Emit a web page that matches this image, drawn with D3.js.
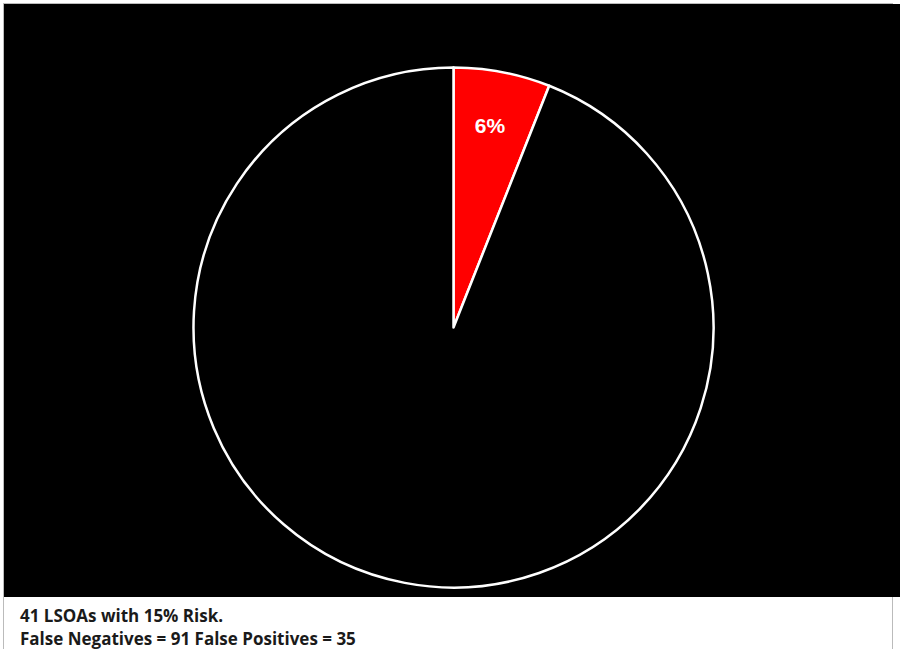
<!DOCTYPE html>
<html>
<head>
<meta charset="utf-8">
<script src="https://cdn.jsdelivr.net/npm/d3@7"></script>
<style>
  body { margin: 0; background: #fff; }
  svg { display: block; }
</style>
</head>
<body>
<div id="chart"></div>
<script>
var categories = ["At risk", "Other"];
var values = [6, 94];
var sliceLabels = ["6%", ""];
var captionLines = ["41 LSOAs with 15% Risk.", "False Negatives = 91 False Positives = 35"];

var width = 900, height = 649;
var plot = {left: 4, top: 4, right: 900, bottom: 597};

var svg = d3.select("#chart")
  .append("svg")
  .attr("width", width)
  .attr("height", height);

// outer frame lines
svg.append("rect")
  .attr("x", plot.left - 0.5)
  .attr("y", plot.top - 0.5)
  .attr("width", 893 - plot.left)
  .attr("height", height)
  .attr("fill", "none")
  .attr("stroke", "#bbb")
  .attr("stroke-width", 1);

// black plot area
svg.append("rect")
  .attr("x", plot.left)
  .attr("y", plot.top)
  .attr("width", plot.right - plot.left)
  .attr("height", plot.bottom - plot.top)
  .attr("fill", "#000");

var cx = 453.5, cy = 327.5, radius = 260;

var color = d3.scaleOrdinal()
  .domain(categories)
  .range(["#ff0000", "#000000"]);

var pie = d3.pie().sort(null).value(function(d) { return d; });
var arc = d3.arc().innerRadius(0).outerRadius(radius);
var labelArc = d3.arc().innerRadius(radius * 0.79).outerRadius(radius * 0.79);

var g = svg.append("g")
  .attr("transform", "translate(" + cx + "," + cy + ")");

var arcs = pie(values);

g.selectAll("path")
  .data(arcs)
  .enter()
  .append("path")
  .attr("d", arc)
  .attr("fill", function(d, i) { return color(categories[i]); })
  .attr("stroke", "#fff")
  .attr("stroke-width", 2.5)
  .attr("stroke-linejoin", "round");

g.selectAll("text")
  .data(arcs)
  .enter()
  .append("text")
  .attr("transform", function(d) { return "translate(" + labelArc.centroid(d) + ")"; })
  .attr("text-anchor", "middle")
  .attr("dx", -2)
  .attr("dy", "0.35em")
  .attr("fill", "#fff")
  .attr("font-family", "Liberation Sans, Arial, sans-serif")
  .attr("font-weight", "bold")
  .attr("font-size", 21)
  .text(function(d, i) { return sliceLabels[i]; });

// caption below
svg.selectAll(".caption")
  .data(captionLines)
  .enter()
  .append("text")
  .attr("class", "caption")
  .attr("x", 20)
  .attr("y", function(d, i) { return 622 + i * 23; })
  .attr("fill", "#1a1a1a")
  .attr("font-family", "'Open Sans', sans-serif")
  .attr("font-weight", "bold")
  .attr("font-size", 17)
  .text(function(d) { return d; });
</script>
</body>
</html>
